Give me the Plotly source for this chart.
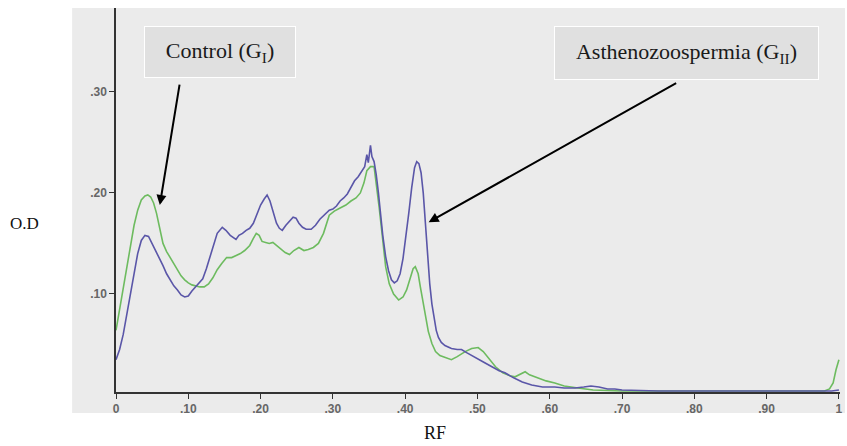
import plotly.graph_objects as go

# Asthenozoospermia (G_II) - blue/purple trace
rf_g2 = [0.000, 0.005, 0.010, 0.015, 0.020, 0.025, 0.030, 0.035, 0.040, 0.045,
         0.050, 0.055, 0.060, 0.065, 0.070, 0.075, 0.080, 0.085, 0.090, 0.095,
         0.100, 0.105, 0.110, 0.115, 0.120, 0.125, 0.130, 0.135, 0.140, 0.147,
         0.152, 0.158, 0.163, 0.166, 0.170, 0.175, 0.180, 0.185, 0.190, 0.195,
         0.200, 0.205, 0.209, 0.213, 0.218, 0.222, 0.226, 0.230, 0.235, 0.240,
         0.245, 0.249, 0.253, 0.258, 0.263, 0.270, 0.276, 0.282, 0.288, 0.295,
         0.300, 0.305, 0.310, 0.315, 0.320, 0.325, 0.330, 0.335, 0.340, 0.344,
         0.347, 0.349, 0.352, 0.354, 0.357, 0.360, 0.363, 0.366, 0.369, 0.373,
         0.377, 0.381, 0.385, 0.389, 0.393, 0.397, 0.401, 0.405, 0.409, 0.413,
         0.416, 0.419, 0.422, 0.425, 0.428, 0.431, 0.434, 0.437, 0.440, 0.443,
         0.446, 0.450, 0.455, 0.464, 0.472, 0.478, 0.485, 0.493, 0.501, 0.510,
         0.520, 0.530, 0.538, 0.550, 0.562, 0.575, 0.590, 0.607, 0.620, 0.635,
         0.647, 0.657, 0.668, 0.680, 0.690, 0.700, 0.750, 0.800, 0.850, 0.900,
         0.950, 0.990, 1.000]
od_g2 = [0.035, 0.045, 0.060, 0.080, 0.100, 0.120, 0.140, 0.153, 0.158, 0.157,
         0.150, 0.142, 0.135, 0.128, 0.120, 0.114, 0.108, 0.104, 0.099, 0.097,
         0.098, 0.103, 0.107, 0.110, 0.115, 0.125, 0.137, 0.150, 0.160, 0.166,
         0.163, 0.158, 0.155, 0.154, 0.158, 0.160, 0.163, 0.165, 0.170, 0.180,
         0.188, 0.194, 0.198, 0.192, 0.180, 0.170, 0.165, 0.163, 0.168, 0.172,
         0.176, 0.175, 0.170, 0.166, 0.164, 0.164, 0.168, 0.174, 0.178, 0.183,
         0.184, 0.187, 0.192, 0.195, 0.199, 0.205, 0.212, 0.216, 0.222, 0.226,
         0.238, 0.230, 0.247, 0.236, 0.231, 0.218, 0.200, 0.178, 0.158, 0.137,
         0.123, 0.114, 0.111, 0.113, 0.120, 0.135, 0.155, 0.180, 0.205, 0.225,
         0.231, 0.229, 0.220, 0.200, 0.170, 0.135, 0.110, 0.090, 0.075, 0.064,
         0.057, 0.052, 0.049, 0.046, 0.045, 0.045, 0.042, 0.039, 0.036, 0.032,
         0.028, 0.024, 0.022, 0.017, 0.013, 0.010, 0.008, 0.008, 0.007, 0.007,
         0.008, 0.009, 0.008, 0.006, 0.006, 0.005, 0.004, 0.004, 0.004, 0.004,
         0.004, 0.004, 0.005]

# Control (G_I) - green trace
rf_g1 = [0.000, 0.005, 0.010, 0.015, 0.020, 0.025, 0.030, 0.035, 0.040, 0.044,
         0.048, 0.052, 0.056, 0.060, 0.065, 0.070, 0.075, 0.080, 0.085, 0.090,
         0.095, 0.100, 0.105, 0.110, 0.116, 0.122, 0.128, 0.134, 0.140, 0.146,
         0.153, 0.160, 0.166, 0.172, 0.178, 0.185, 0.190, 0.194, 0.198, 0.202,
         0.207, 0.212, 0.217, 0.222, 0.228, 0.234, 0.240, 0.246, 0.253, 0.260,
         0.266, 0.273, 0.280, 0.287, 0.295, 0.302, 0.310, 0.318, 0.325, 0.332,
         0.338, 0.343, 0.347, 0.352, 0.357, 0.361, 0.364, 0.368, 0.373, 0.378,
         0.384, 0.391, 0.397, 0.402, 0.407, 0.411, 0.414, 0.418, 0.421, 0.425,
         0.428, 0.432, 0.437, 0.442, 0.448, 0.456, 0.464, 0.472, 0.483, 0.492,
         0.501, 0.508, 0.516, 0.525, 0.535, 0.545, 0.552, 0.558, 0.566, 0.572,
         0.584, 0.595, 0.607, 0.620, 0.639, 0.660, 0.700, 0.750, 0.800, 0.850,
         0.900, 0.950, 0.980, 0.987, 0.992, 0.996, 1.000]
od_g1 = [0.064, 0.085, 0.105, 0.125, 0.148, 0.168, 0.183, 0.193, 0.197, 0.198,
         0.196, 0.190, 0.180, 0.165, 0.150, 0.142, 0.136, 0.130, 0.124, 0.118,
         0.114, 0.111, 0.109, 0.108, 0.107, 0.107, 0.110, 0.116, 0.124, 0.130,
         0.136, 0.136, 0.138, 0.140, 0.143, 0.148, 0.155, 0.160, 0.158, 0.152,
         0.151, 0.150, 0.151, 0.148, 0.144, 0.141, 0.139, 0.143, 0.146, 0.143,
         0.144, 0.146, 0.150, 0.160, 0.178, 0.182, 0.185, 0.188, 0.192, 0.195,
         0.200, 0.210, 0.222, 0.226, 0.226, 0.205, 0.186, 0.160, 0.127, 0.110,
         0.100, 0.094, 0.097, 0.104, 0.115, 0.125, 0.127, 0.120, 0.107, 0.090,
         0.077, 0.063, 0.051, 0.043, 0.039, 0.037, 0.035, 0.038, 0.043, 0.046,
         0.047, 0.043, 0.036, 0.028, 0.022, 0.019, 0.018, 0.020, 0.023, 0.020,
         0.017, 0.014, 0.012, 0.009, 0.007, 0.005, 0.004, 0.004, 0.004, 0.004,
         0.004, 0.004, 0.004, 0.006, 0.012, 0.025, 0.035]

x_tickvals = [0, 0.1, 0.2, 0.3, 0.4, 0.5, 0.6, 0.7, 0.8, 0.9, 1]
x_ticktext = ["0", ".10", ".20", ".30", ".40", ".50", ".60", ".70", ".80", ".90", "1"]
y_tickvals = [0.1, 0.2, 0.3]
y_ticktext = [".10", ".20", ".30"]

fig = go.Figure()
fig.add_trace(go.Scatter(x=rf_g1, y=od_g1, mode="lines",
                         line=dict(color="#6dbb5f", width=1.6), name="Control (GI)"))
fig.add_trace(go.Scatter(x=rf_g2, y=od_g2, mode="lines",
                         line=dict(color="#5a56a8", width=1.6), name="Asthenozoospermia (GII)"))

tickfont = dict(family="Liberation Sans", size=12, color="#666666", weight="bold")
serif = "Liberation Serif"

fig.update_layout(
    width=847, height=446, autosize=False,
    margin=dict(l=116, r=4, t=8, b=54, pad=0),
    paper_bgcolor="white", plot_bgcolor="#ebebeb",
    showlegend=False,
    xaxis=dict(range=[0, 1.0015], showgrid=False, zeroline=False, showline=True,
               linecolor="#333333", linewidth=1.5, ticks="outside", ticklen=5,
               tickcolor="#333333", tickmode="array", tickvals=x_tickvals,
               ticktext=x_ticktext, tickfont=tickfont, ticklabeloverflow="allow"),
    yaxis=dict(range=[0.003, 0.383], showgrid=False, zeroline=False, showline=True,
               linecolor="#333333", linewidth=1.5, ticks="outside", ticklen=5,
               tickcolor="#333333", tickmode="array", tickvals=y_tickvals,
               ticktext=y_ticktext, tickfont=tickfont, ticklabeloverflow="allow"),
    shapes=[dict(type="rect", xref="paper", yref="paper",
                 x0=-0.0606, x1=1.0069, y0=-0.0547, y1=1.0,
                 fillcolor="#ebebeb", line=dict(width=0), layer="below")],
)

annotations = [
    dict(text="O.D", xref="paper", yref="paper", x=-0.126, y=0.440,
         showarrow=False, font=dict(family=serif, size=17, color="#111"),
         xanchor="center", yanchor="middle"),
    dict(text="RF", xref="paper", yref="paper", x=0.4408, y=-0.1068,
         showarrow=False, font=dict(family=serif, size=18, color="#111"),
         xanchor="center", yanchor="middle"),
    dict(text="Control (G<sub>I</sub>)", xref="paper", yref="paper",
         x=0.1433, y=0.8854, showarrow=False, xanchor="center", yanchor="middle",
         width=148, height=48, bgcolor="#e0e0e0", bordercolor="white",
         borderwidth=1, borderpad=1, align="center", valign="middle",
         font=dict(family=serif, size=22, color="#1a1a1a")),
    dict(text="Asthenozoospermia (G<sub>II</sub>)", xref="paper", yref="paper",
         x=0.7886, y=0.8828, showarrow=False, xanchor="center", yanchor="middle",
         width=261, height=50, bgcolor="#e0e0e0", bordercolor="white",
         borderwidth=1, borderpad=1, align="center", valign="middle",
         font=dict(family=serif, size=22, color="#1a1a1a")),
    dict(text="", x=0.0606, y=0.188, xref="x", yref="y", ax=20, ay=-122,
         showarrow=True, arrowhead=2, arrowsize=1, arrowwidth=2,
         arrowcolor="black", standoff=0),
    dict(text="", x=0.4325, y=0.171, xref="x", yref="y", ax=249, ay=-140,
         showarrow=True, arrowhead=2, arrowsize=1, arrowwidth=2,
         arrowcolor="black", standoff=0),
]
fig.update_layout(annotations=annotations)

# Remove the browser's default 8px body margin so the figure fills the window.
fig.write_html("out.html",
               config={"displayModeBar": False},
               post_script="document.body.style.margin='0';document.body.style.overflow='hidden';")
